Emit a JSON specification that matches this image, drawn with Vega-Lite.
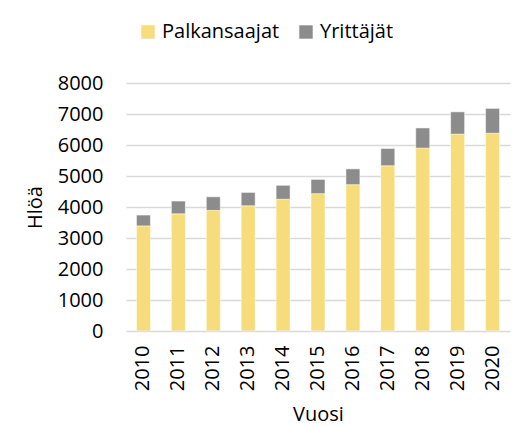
{
  "$schema": "https://vega.github.io/schema/vega-lite/v6.json",
  "autosize": "none",
  "width": 384,
  "height": 248,
  "padding": {"left": 126, "top": 83, "right": 3, "bottom": 96},
  "background": "white",
  "config": {
    "view": {"stroke": null},
    "font": "Open Sans",
    "axis": {"labelFont": "Open Sans", "titleFont": "Open Sans", "labelColor": "#000", "titleColor": "#000", "titleFontWeight": "normal"},
    "legend": {"labelFont": "Open Sans"}
  },
  "data": {
    "values": [
      {"Vuosi": "2010", "Ryhma": "Palkansaajat", "Hloa": 3390, "o": 0},
      {"Vuosi": "2010", "Ryhma": "Yrittäjät", "Hloa": 350, "o": 1},
      {"Vuosi": "2011", "Ryhma": "Palkansaajat", "Hloa": 3780, "o": 0},
      {"Vuosi": "2011", "Ryhma": "Yrittäjät", "Hloa": 410, "o": 1},
      {"Vuosi": "2012", "Ryhma": "Palkansaajat", "Hloa": 3890, "o": 0},
      {"Vuosi": "2012", "Ryhma": "Yrittäjät", "Hloa": 440, "o": 1},
      {"Vuosi": "2013", "Ryhma": "Palkansaajat", "Hloa": 4040, "o": 0},
      {"Vuosi": "2013", "Ryhma": "Yrittäjät", "Hloa": 430, "o": 1},
      {"Vuosi": "2014", "Ryhma": "Palkansaajat", "Hloa": 4250, "o": 0},
      {"Vuosi": "2014", "Ryhma": "Yrittäjät", "Hloa": 450, "o": 1},
      {"Vuosi": "2015", "Ryhma": "Palkansaajat", "Hloa": 4430, "o": 0},
      {"Vuosi": "2015", "Ryhma": "Yrittäjät", "Hloa": 460, "o": 1},
      {"Vuosi": "2016", "Ryhma": "Palkansaajat", "Hloa": 4720, "o": 0},
      {"Vuosi": "2016", "Ryhma": "Yrittäjät", "Hloa": 510, "o": 1},
      {"Vuosi": "2017", "Ryhma": "Palkansaajat", "Hloa": 5330, "o": 0},
      {"Vuosi": "2017", "Ryhma": "Yrittäjät", "Hloa": 560, "o": 1},
      {"Vuosi": "2018", "Ryhma": "Palkansaajat", "Hloa": 5900, "o": 0},
      {"Vuosi": "2018", "Ryhma": "Yrittäjät", "Hloa": 650, "o": 1},
      {"Vuosi": "2019", "Ryhma": "Palkansaajat", "Hloa": 6350, "o": 0},
      {"Vuosi": "2019", "Ryhma": "Yrittäjät", "Hloa": 720, "o": 1},
      {"Vuosi": "2020", "Ryhma": "Palkansaajat", "Hloa": 6380, "o": 0},
      {"Vuosi": "2020", "Ryhma": "Yrittäjät", "Hloa": 800, "o": 1}
    ]
  },
  "mark": {"type": "bar", "stroke": "white", "strokeWidth": 0.5},
  "encoding": {
    "x": {
      "field": "Vuosi", "type": "nominal", "title": "Vuosi",
      "scale": {"paddingInner": 0.6, "paddingOuter": 0.3},
      "axis": {"labelAngle": -90, "labelFontSize": 20, "titleFontSize": 20, "domain": false, "ticks": false, "labelPadding": 14, "titlePadding": 14, "labelBaseline": "middle", "labelAlign": "right"}
    },
    "y": {
      "field": "Hloa", "type": "quantitative", "title": "Hlöä",
      "stack": "zero",
      "scale": {"domain": [0, 8000]},
      "axis": {"values": [0,1000,2000,3000,4000,5000,6000,7000,8000], "format": "d", "labelFontSize": 20, "titleFontSize": 20, "domain": false, "ticks": false, "labelPadding": 23, "titlePadding": 12, "gridColor": "#d9d9d9", "gridWidth": 1.5}
    },
    "color": {
      "field": "Ryhma", "type": "nominal", "title": null,
      "scale": {"domain": ["Palkansaajat", "Yrittäjät"], "range": ["#F6DC7A", "#8C8C8C"]},
      "legend": {"orient": "none", "legendX": 12, "legendY": -61, "direction": "horizontal", "symbolType": "square", "symbolSize": 180, "symbolStrokeWidth": 0, "labelFontSize": 20, "labelColor": "#000", "columnPadding": 16, "labelOffset": 4}
    },
    "order": {"field": "o", "type": "quantitative"}
  }
}
